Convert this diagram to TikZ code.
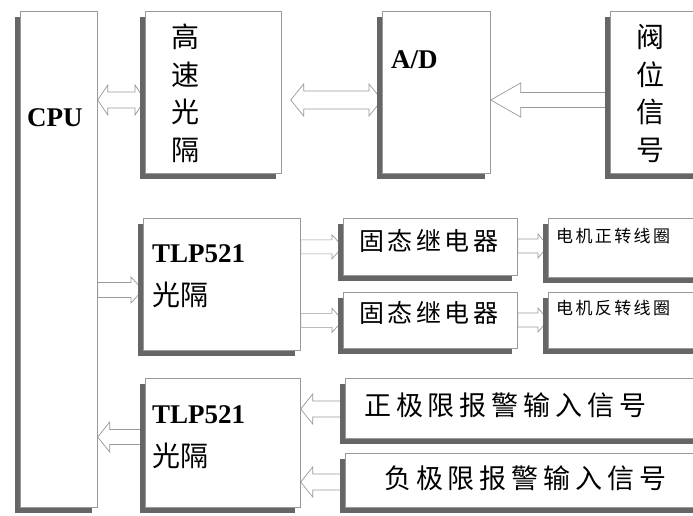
\documentclass[tikz,border=0pt]{standalone}
\usepackage{fontspec}
\setmainfont{Liberation Serif}
\newfontfamily\cjk{Noto Sans CJK SC}
\newfontfamily\cjkwide[LetterSpace=14]{Noto Sans CJK SC}
\newfontfamily\cjkwider[LetterSpace=18]{Noto Sans CJK SC}
\usepackage{tikz}
\usetikzlibrary{positioning, calc, shadows}
\pgfdeclarelayer{back}
\pgfsetlayers{back,main}

% hollow block arrow: from, to, shaft half, head half, head length
\newcommand{\blockto}[5]{%
  \draw[blockarrow] let \p1=#1, \p2=#2, \p3=($#2!#5!#1$) in
    (\x1,\y1+#3) -- (\x3,\y1+#3) -- (\x3,\y1+#4) -- (\x2,\y1)
    -- (\x3,\y1-#4) -- (\x3,\y1-#3) -- (\x1,\y1-#3) -- cycle;}
% hollow block arrow with two heads
\newcommand{\blockboth}[5]{%
  \draw[blockarrow] let \p1=#1, \p2=#2, \p3=($#2!#5!#1$), \p4=($#1!#5!#2$) in
    (\x1,\y1) -- (\x4,\y1+#4) -- (\x4,\y1+#3) -- (\x3,\y1+#3) -- (\x3,\y1+#4)
    -- (\x2,\y1) -- (\x3,\y1-#4) -- (\x3,\y1-#3) -- (\x4,\y1-#3) -- (\x4,\y1-#4) -- cycle;}

\begin{document}
\begin{tikzpicture}[x=1pt, y=-1pt,
  box/.style={draw=black!40, fill=white, line width=0.7pt, anchor=north west, inner sep=0pt,
    general shadow={fill=black!60, shadow xshift=-5pt, shadow yshift=-6pt}},
  blockarrow/.style={draw=black!40, fill=white, line width=0.7pt, line join=miter},
  lbl/.style={anchor=west, inner sep=0pt},
  latin/.style={font=\bfseries\fontsize{27}{27}\selectfont},
  cjkbig/.style={font=\cjk\fontsize{28}{28}\selectfont}]

  \clip (0,0) rectangle (693,516);

  % Top row
  \node (cpu) [box, minimum width=77pt, minimum height=496pt] at (20,11) {};
  \node (hsopto) [box, minimum width=136pt, minimum height=162pt] at (145,11) {};
  \node (adc) [box, minimum width=108pt, minimum height=162pt] at (382,11) {};
  \node (valve) [box, minimum width=120pt, minimum height=162pt] at (610,11) {};

  \node (cputxt) [lbl, latin] at (27,118) {CPU};
  \node (hstxt) [inner sep=0pt, align=center, font=\cjk\fontsize{28}{37.5}\selectfont] at (185,93.5) {高\\速\\光\\隔};
  \node (adtxt) [lbl, latin] at (391,60) {A/D};
  \node (valvetxt) [inner sep=0pt, align=center, font=\cjk\fontsize{28}{37.5}\selectfont] at (650,93.5) {阀\\位\\信\\号};

  % Output side
  \node (tlpA) [box, minimum width=157pt, minimum height=132pt] at (143,218) {};
  \node (relayA) [box, minimum width=174pt, minimum height=57pt] at (343,218) {};
  \node (relayB) [box, minimum width=174pt, minimum height=56pt] at (343,292) {};
  \node (coilA) [box, minimum width=170pt, minimum height=59pt] at (548,218) {};
  \node (coilB) [box, minimum width=170pt, minimum height=56pt] at (548,292) {};

  \node (tlpAtxt) [lbl, latin] at (152,254) {TLP521};
  \node (tlpAcn) [lbl, cjkbig] at (152,295) {光隔};
  \node (relayAtxt) [lbl, font=\cjkwide\fontsize{25}{25}\selectfont] at (359,241) {固态继电器};
  \node (relayBtxt) [lbl, font=\cjkwide\fontsize{25}{25}\selectfont] at (359,313) {固态继电器};
  \node (coilAtxt) [lbl, font=\cjkwide\fontsize{17}{17}\selectfont] at (556,236) {电机正转线圈};
  \node (coilBtxt) [lbl, font=\cjkwide\fontsize{17}{17}\selectfont] at (556,308) {电机反转线圈};

  % Input side
  \node (tlpB) [box, minimum width=155pt, minimum height=129pt] at (145,378) {};
  \node (alarmP) [box, minimum width=375pt, minimum height=60pt] at (345,378) {};
  \node (alarmN) [box, minimum width=375pt, minimum height=54pt] at (345,453) {};

  \node (tlpBtxt) [lbl, latin] at (152,415) {TLP521};
  \node (tlpBcn) [lbl, cjkbig] at (152,456) {光隔};
  \node (alarmPtxt) [lbl, font=\cjkwider\fontsize{27}{27}\selectfont] at (364,405) {正极限报警输入信号};
  \node (alarmNtxt) [lbl, font=\cjkwider\fontsize{27}{27}\selectfont] at (384,478) {负极限报警输入信号};

  % Block arrows behind the boxes
  \begin{pgfonlayer}{back}
    \fill[white] (0,0) rectangle (693,516);
    \blockboth{(cpu.east|-0,100)}{(hsopto.west|-0,100)}{8pt}{15pt}{10pt}
    \blockboth{($(hsopto.east|-0,100)+(9,0)$)}{(adc.west|-0,100)}{9pt}{16pt}{13pt}
    \blockto{(valve.west|-0,100)}{(adc.east|-0,100)}{7.5pt}{17pt}{30pt}
    \blockto{(cpu.east|-0,290)}{(tlpA.west|-0,290)}{7.5pt}{13pt}{12pt}
    \blockto{(tlpA.east|-relayA.center)}{(relayA.west)}{7pt}{12pt}{11pt}
    \blockto{(tlpA.east|-relayB.center)}{(relayB.west)}{7pt}{12pt}{11pt}
    \blockto{(relayA.east|-0,246)}{(coilA.west|-0,246)}{7pt}{12pt}{10pt}
    \blockto{(relayB.east|-0,320)}{(coilB.west|-0,320)}{7pt}{12pt}{10pt}
    \blockto{(tlpB.west|-0,437)}{(cpu.east|-0,437)}{7.5pt}{15pt}{12pt}
    \blockto{(alarmP.west|-0,409)}{(tlpB.east|-0,409)}{8pt}{15pt}{12pt}
    \blockto{(alarmN.west|-0,482)}{(tlpB.east|-0,482)}{8pt}{15pt}{12pt}
  \end{pgfonlayer}
\end{tikzpicture}
\end{document}
